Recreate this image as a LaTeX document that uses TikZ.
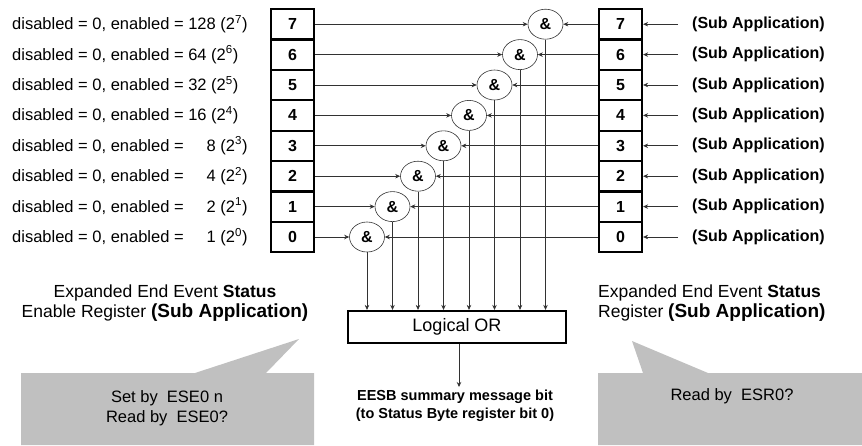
\documentclass[tikz,border=0pt]{standalone}
\usepackage{fontspec}
\setmainfont{Liberation Sans}
\usetikzlibrary{shapes.geometric,arrows.meta}
\definecolor{callgray}{RGB}{192,192,192}
\definecolor{linegray}{RGB}{50,50,50}
\begin{document}
\begin{tikzpicture}[x=1pt,y=-1pt,
  cell/.style={draw, line width=2.2pt, minimum width=43pt, minimum height=30.4pt, inner sep=0pt, font=\fontsize{16}{17}\selectfont\bfseries},
  andg/.style={ellipse, draw=linegray, line width=0.6pt, minimum width=35pt, minimum height=30pt, inner sep=0pt, font=\fontsize{16}{17}\selectfont\bfseries},
  arr/.style={-{Stealth[length=5pt,width=4.5pt]}, line width=0.7pt, draw=linegray},
  lefttext/.style={anchor=west, inner sep=0pt, font=\fontsize{16.5}{17}\selectfont},
  subtext/.style={anchor=west, inner sep=0pt, font=\fontsize{16}{17}\selectfont\bfseries},
  title/.style={inner sep=0pt, font=\fontsize{17.5}{20.5}\selectfont},
  orbox/.style={draw, line width=2.2pt, minimum width=218pt, minimum height=32pt, inner sep=0pt, font=\fontsize{18}{19}\selectfont},
  eesb/.style={inner sep=0pt, align=center, font=\fontsize{14.5}{18.5}\selectfont\bfseries},
  calltext/.style={inner sep=0pt, font=\fontsize{16.5}{17}\selectfont}
]
\useasboundingbox (0,0) rectangle (862,445);
% callouts
\fill[callgray] (21,373) -- (195,373) -- (299,339) -- (266,373) -- (314,373) -- (314,445) -- (21,445) -- cycle;
\fill[callgray] (598,373) -- (643,373) -- (632,341) -- (708,373) -- (862,373) -- (862,445) -- (598,445) -- cycle;
% logical OR
\node[orbox] (OR) at (457,327) {Logical OR};
\foreach \i/\v in {0/{\hphantom{00}1},1/{\hphantom{00}2},2/{\hphantom{00}4},3/{\hphantom{00}8},4/{16},5/{32},6/{64},7/{128}}{
  \pgfmathsetmacro\yy{237-30.4*\i}
  \pgfmathsetmacro\ax{367+25.5*\i}
  \node[cell] (L\i) at (292.5,\yy) {\i};
  \node[cell] (R\i) at (620.5,\yy) {\i};
  \node[andg] (A\i) at (\ax,\yy) {\&};
  \node[lefttext] (T\i) at (12,\yy) {disabled = 0, enabled = \v{} (2\textsuperscript{\i})};
  \node[subtext] (S\i) at (692,\yy) {(Sub Application)};
  \coordinate (E\i) at (678,\yy);
  \draw[arr] (E\i) -- (R\i.east);
  \draw[arr] (L\i.east) -- (A\i.west);
  \draw[arr] (R\i.west) -- (A\i.east);
  \draw[arr] (A\i.south) -- (A\i.south |- OR.north);
}
% output
\coordinate (O) at (459,387);
\draw[arr] (OR.south -| O) -- (O);
\node[eesb] (EB) at (455,406) {EESB summary message bit\\(to Status Byte register bit 0)};
% titles
\node[title, align=center] (TL) at (165,303) {Expanded End Event \textbf{Status}\\Enable Register \textbf{\fontsize{19}{20.5}\selectfont(Sub Application)}};
\node[title, align=left, anchor=west] (TR) at (598,303) {Expanded End Event \textbf{Status}\\Register \textbf{\fontsize{19}{20.5}\selectfont(Sub Application)}};
% callout texts
\node[calltext] (C1) at (167,398) {Set by\ \ ESE0 n};
\node[calltext] (C2) at (167,418) {Read by\ \ ESE0?};
\node[calltext] (C3) at (732,396) {Read by\ \ ESR0?};
\end{tikzpicture}
\end{document}
